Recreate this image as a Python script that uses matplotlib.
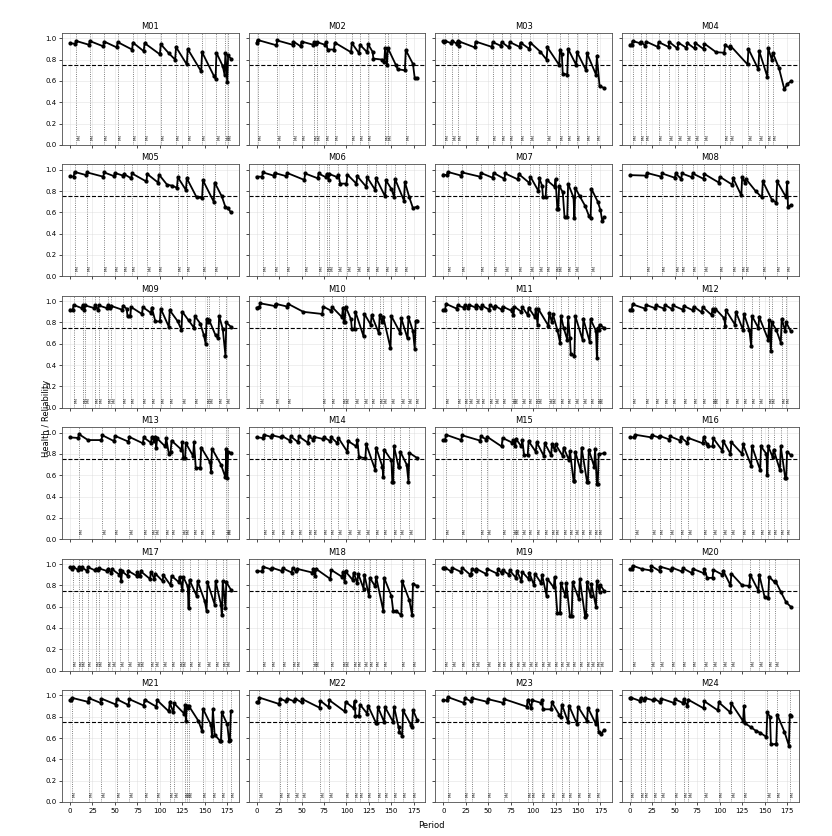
import matplotlib
matplotlib.use("Agg")
import matplotlib.pyplot as plt

MACHINES = ["M%02d" % i for i in range(1, 25)]
X_TICKS = [0, 25, 50, 75, 100, 125, 150, 175]
Y_TICKS = [0.0, 0.2, 0.4, 0.6, 0.8, 1.0]
THRESHOLD = 0.75

PM_M01 = [7, 22, 38, 53, 70, 83, 101, 118, 131, 147, 163, 173, 176]
H_M01 = [(0,.953),(6,.95),(7,.975),(21,.94),(22,.975),(37,.925),(38,.97),(52,.915),(53,.965),(69,.895),(70,.96),(82,.88),(83,.955),(100,.85),(101,.945),(110,.86),(117,.80),(118,.918),(130,.755),(131,.90),(146,.69),(147,.87),(160,.65),(162,.62),(163,.865),(170,.74),(172,.66),(173,.86),(175,.59),(176,.84),(179,.81)]

PM_M02 = [1, 23, 41, 50, 64, 67, 77, 87, 106, 115, 124, 143, 146, 166]
H_M02 = [(0,.96),(1,.985),(22,.935),(23,.98),(40,.94),(41,.97),(49,.925),(50,.97),(63,.94),(64,.965),(66,.945),(67,.965),(76,.94),(77,.965),(79,.895),(86,.895),(87,.96),(105,.87),(106,.955),(114,.86),(115,.94),(123,.87),(124,.945),(129,.875),(130,.81),(140,.80),(142,.775),(143,.91),(145,.75),(146,.91),(155,.75),(157,.71),(165,.70),(166,.89),(174,.76),(176,.625),(179,.625)]

PM_M03 = [2, 10, 16, 36, 55, 65, 74, 86, 97, 116, 130, 139, 149, 160, 171]
H_M03 = [(0,.975),(1,.97),(2,.975),(9,.955),(10,.975),(15,.95),(16,.975),(17,.93),(18,.97),(35,.915),(36,.97),(54,.92),(55,.965),(64,.93),(65,.965),(73,.915),(74,.965),(85,.92),(86,.96),(96,.90),(97,.96),(108,.875),(115,.80),(116,.915),(129,.75),(130,.895),(132,.85),(133,.67),(138,.66),(139,.90),(148,.75),(149,.87),(159,.70),(160,.86),(170,.66),(171,.83),(174,.55),(179,.535)]

PM_M04 = [3, 12, 18, 32, 44, 54, 64, 73, 83, 106, 112, 132, 144, 154, 159]
H_M04 = [(0,.94),(2,.94),(3,.975),(11,.955),(12,.97),(17,.93),(18,.97),(31,.92),(32,.965),(43,.92),(44,.965),(53,.905),(54,.96),(63,.91),(64,.955),(72,.905),(73,.955),(82,.90),(83,.95),(96,.87),(105,.865),(106,.935),(111,.91),(112,.93),(131,.755),(132,.90),(143,.71),(144,.88),(153,.64),(154,.905),(158,.80),(159,.865),(166,.72),(172,.52),(175,.57),(179,.595)]

PM_M05 = [5, 19, 38, 50, 60, 69, 86, 99, 120, 130, 148, 161]
H_M05 = [(0,.94),(4,.935),(5,.98),(18,.95),(19,.975),(37,.935),(38,.975),(49,.94),(50,.97),(59,.945),(60,.96),(68,.92),(69,.965),(85,.89),(86,.96),(98,.88),(99,.955),(108,.86),(114,.85),(119,.83),(120,.93),(129,.81),(130,.92),(141,.74),(147,.735),(148,.90),(160,.70),(161,.88),(169,.75),(173,.65),(176,.64),(179,.60)]

PM_M06 = [7, 20, 34, 54, 69, 78, 81, 91, 101, 112, 123, 133, 144, 154, 165]
H_M06 = [(0,.935),(6,.935),(7,.975),(19,.945),(20,.97),(33,.94),(34,.97),(53,.905),(54,.965),(68,.92),(69,.965),(77,.93),(78,.96),(80,.905),(81,.96),(90,.93),(91,.955),(93,.87),(100,.87),(101,.955),(111,.87),(112,.94),(122,.84),(123,.93),(132,.81),(133,.92),(143,.75),(144,.90),(150,.82),(153,.745),(154,.915),(164,.71),(165,.885),(170,.74),(174,.64),(179,.655)]

PM_M07 = [5, 21, 42, 56, 69, 84, 97, 107, 115, 125, 129, 139, 147, 165]
H_M07 = [(0,.955),(4,.95),(5,.98),(20,.945),(21,.975),(41,.935),(42,.97),(55,.925),(56,.97),(68,.915),(69,.965),(83,.91),(84,.96),(96,.875),(97,.935),(106,.80),(107,.92),(110,.85),(111,.745),(114,.745),(115,.905),(124,.84),(125,.91),(127,.63),(128,.63),(129,.85),(133,.79),(135,.555),(138,.555),(139,.87),(145,.74),(146,.55),(147,.83),(152,.75),(158,.66),(162,.57),(164,.55),(165,.82),(172,.70),(175,.62),(177,.52),(179,.555)]

PM_M08 = [19, 36, 51, 58, 70, 83, 100, 115, 125, 129, 148, 164, 175]
H_M08 = [(0,.95),(18,.945),(19,.97),(35,.935),(36,.965),(50,.925),(51,.965),(57,.915),(58,.965),(69,.93),(70,.965),(82,.915),(83,.96),(99,.88),(100,.935),(114,.86),(115,.92),(124,.76),(125,.93),(128,.88),(129,.915),(140,.80),(147,.74),(148,.89),(158,.72),(163,.69),(164,.89),(174,.74),(175,.885),(176,.655),(179,.665)]

PM_M09 = [4, 14, 17, 28, 32, 42, 46, 59, 68, 81, 91, 101, 111, 125, 139, 152, 155, 166, 174]
H_M09 = [(0,.92),(3,.92),(4,.965),(13,.935),(14,.96),(16,.92),(17,.96),(27,.935),(28,.965),(31,.915),(32,.96),(41,.935),(42,.96),(45,.94),(46,.955),(58,.92),(59,.955),(63,.93),(64,.86),(67,.86),(68,.945),(80,.88),(81,.945),(90,.89),(91,.94),(95,.81),(100,.81),(101,.93),(110,.76),(111,.915),(120,.81),(124,.73),(125,.90),(132,.82),(138,.75),(139,.86),(145,.79),(149,.68),(151,.60),(152,.83),(154,.80),(155,.82),(162,.68),(165,.65),(166,.86),(170,.74),(173,.49),(174,.80),(179,.76)]

PM_M10 = [4, 21, 35, 74, 84, 96, 99, 110, 120, 128, 137, 141, 150, 161, 169, 177]
H_M10 = [(0,.94),(3,.945),(4,.98),(20,.955),(21,.975),(34,.95),(35,.975),(52,.90),(73,.88),(74,.95),(83,.91),(84,.945),(95,.85),(96,.935),(97,.80),(98,.80),(99,.95),(105,.83),(106,.74),(109,.74),(110,.90),(119,.67),(120,.88),(127,.78),(128,.87),(136,.70),(137,.87),(140,.80),(141,.85),(149,.56),(150,.86),(160,.70),(161,.84),(168,.65),(169,.85),(174,.72),(176,.55),(177,.81),(179,.81)]

PM_M11 = [3, 16, 24, 29, 37, 43, 52, 58, 66, 77, 79, 88, 95, 103, 106, 118, 122, 131, 139, 147, 156, 164, 172, 174]
H_M11 = [(0,.92),(2,.92),(3,.975),(15,.93),(16,.96),(23,.94),(24,.965),(28,.94),(29,.965),(36,.94),(37,.965),(42,.935),(43,.96),(51,.92),(52,.96),(57,.935),(58,.955),(65,.92),(66,.95),(76,.91),(77,.93),(78,.87),(79,.95),(87,.90),(88,.945),(94,.87),(95,.94),(102,.85),(103,.93),(105,.78),(106,.925),(117,.77),(118,.89),(121,.80),(122,.88),(127,.73),(130,.61),(131,.865),(134,.75),(138,.64),(139,.85),(141,.65),(142,.50),(146,.49),(147,.86),(155,.64),(156,.83),(163,.62),(164,.83),(170,.72),(171,.47),(172,.75),(173,.73),(174,.78),(179,.75)]

PM_M12 = [3, 18, 29, 39, 48, 60, 71, 81, 92, 95, 107, 118, 127, 136, 144, 155, 158, 169, 174]
H_M12 = [(0,.92),(2,.92),(3,.97),(17,.93),(18,.965),(28,.935),(29,.96),(38,.93),(39,.965),(47,.925),(48,.96),(59,.92),(60,.955),(70,.915),(71,.95),(80,.895),(81,.945),(91,.87),(92,.93),(94,.91),(95,.93),(105,.84),(106,.77),(107,.915),(117,.78),(118,.90),(126,.73),(127,.88),(133,.73),(135,.58),(136,.86),(143,.75),(144,.85),(154,.64),(155,.82),(157,.535),(158,.80),(163,.73),(168,.61),(169,.835),(173,.72),(174,.80),(179,.72)]

PM_M13 = [10, 36, 50, 66, 82, 91, 95, 107, 113, 125, 129, 138, 146, 158, 174, 176]
H_M13 = [(0,.955),(9,.95),(10,.985),(20,.93),(35,.93),(36,.975),(49,.92),(50,.97),(65,.915),(66,.96),(81,.90),(82,.955),(90,.905),(91,.955),(94,.92),(95,.955),(96,.86),(97,.945),(106,.87),(107,.95),(110,.80),(112,.82),(113,.925),(124,.84),(125,.915),(126,.76),(128,.76),(129,.90),(137,.78),(138,.91),(140,.67),(145,.67),(146,.86),(156,.72),(157,.63),(158,.85),(168,.70),(173,.58),(174,.85),(175,.575),(176,.82),(179,.81)]

PM_M14 = [8, 17, 28, 38, 47, 58, 64, 75, 83, 91, 102, 112, 122, 133, 142, 153, 160, 170]
H_M14 = [(0,.955),(7,.95),(8,.98),(16,.96),(17,.975),(27,.955),(28,.97),(37,.925),(38,.965),(46,.91),(47,.965),(57,.905),(58,.965),(63,.935),(64,.96),(74,.94),(75,.955),(82,.92),(83,.955),(90,.90),(91,.95),(101,.82),(102,.92),(111,.87),(112,.935),(114,.77),(121,.76),(122,.89),(132,.65),(133,.86),(140,.68),(141,.58),(142,.84),(150,.74),(151,.54),(152,.54),(153,.87),(158,.675),(159,.675),(160,.82),(167,.70),(169,.54),(170,.81),(179,.76)]

PM_M15 = [3, 21, 42, 49, 66, 78, 81, 88, 95, 104, 113, 121, 125, 134, 141, 147, 154, 162, 169, 173]
H_M15 = [(0,.93),(2,.93),(3,.98),(20,.93),(21,.975),(41,.925),(42,.965),(48,.935),(49,.96),(65,.87),(66,.95),(77,.905),(78,.93),(80,.87),(81,.94),(87,.87),(88,.93),(90,.79),(94,.79),(95,.92),(103,.82),(104,.91),(112,.78),(113,.90),(120,.79),(121,.89),(124,.84),(125,.89),(133,.78),(134,.86),(140,.74),(141,.83),(145,.55),(146,.55),(147,.82),(153,.64),(154,.86),(160,.54),(161,.54),(162,.84),(168,.68),(169,.85),(171,.52),(172,.52),(173,.80),(179,.805)]

PM_M16 = [6, 25, 33, 45, 57, 65, 82, 93, 104, 113, 126, 136, 146, 154, 160, 168, 175]
H_M16 = [(0,.955),(5,.955),(6,.98),(24,.955),(25,.975),(32,.955),(33,.97),(44,.935),(45,.965),(56,.925),(57,.955),(64,.905),(65,.95),(81,.90),(82,.955),(86,.89),(87,.87),(92,.87),(93,.945),(103,.83),(104,.92),(112,.80),(113,.91),(125,.80),(126,.89),(135,.69),(136,.87),(145,.65),(146,.87),(152,.80),(153,.60),(154,.87),(159,.77),(160,.84),(167,.65),(168,.87),(173,.57),(174,.57),(175,.82),(179,.79)]

PM_M17 = [3, 10, 13, 20, 29, 32, 42, 47, 56, 65, 75, 79, 90, 95, 104, 113, 122, 126, 133, 142, 153, 162, 170, 174]
H_M17 = [(0,.97),(2,.955),(3,.975),(9,.945),(10,.97),(12,.95),(13,.97),(19,.935),(20,.97),(28,.94),(29,.955),(31,.945),(32,.96),(41,.935),(42,.955),(46,.92),(47,.95),(55,.90),(56,.945),(57,.84),(58,.93),(64,.89),(65,.935),(74,.89),(75,.925),(78,.89),(79,.93),(89,.86),(90,.925),(94,.86),(95,.91),(103,.84),(104,.895),(112,.80),(113,.89),(121,.83),(122,.88),(125,.76),(126,.88),(131,.79),(132,.585),(133,.85),(141,.70),(142,.84),(150,.65),(152,.56),(153,.83),(161,.62),(162,.84),(168,.62),(169,.52),(170,.84),(173,.59),(174,.83),(179,.76)]

PM_M18 = [7, 17, 29, 40, 45, 63, 66, 83, 96, 99, 108, 113, 120, 126, 133, 142, 162, 174]
H_M18 = [(0,.935),(6,.93),(7,.975),(16,.95),(17,.965),(28,.935),(29,.96),(39,.92),(40,.965),(44,.93),(45,.955),(62,.92),(63,.95),(65,.89),(66,.955),(82,.86),(83,.945),(95,.88),(96,.925),(98,.83),(99,.93),(107,.85),(108,.92),(112,.82),(113,.91),(119,.77),(120,.90),(125,.70),(126,.87),(132,.79),(133,.88),(141,.56),(142,.87),(150,.70),(152,.56),(155,.56),(161,.52),(162,.84),(170,.66),(173,.52),(174,.81),(179,.795)]

PM_M19 = [2, 10, 21, 32, 37, 49, 61, 66, 74, 82, 88, 96, 102, 110, 116, 124, 131, 137, 144, 152, 160, 165, 171, 175]
H_M19 = [(0,.965),(1,.96),(2,.965),(9,.93),(10,.965),(20,.925),(21,.965),(30,.90),(31,.91),(32,.955),(36,.93),(37,.955),(48,.905),(49,.955),(60,.91),(61,.95),(65,.915),(66,.945),(73,.90),(74,.94),(81,.87),(82,.935),(87,.84),(88,.925),(95,.86),(96,.915),(101,.80),(102,.91),(109,.82),(110,.90),(115,.70),(116,.86),(123,.78),(124,.88),(127,.54),(130,.54),(131,.82),(136,.70),(137,.82),(141,.51),(143,.51),(144,.83),(151,.67),(152,.86),(158,.50),(159,.52),(160,.83),(164,.70),(165,.81),(170,.60),(171,.84),(174,.74),(175,.80),(179,.75)]

PM_M20 = [3, 24, 34, 47, 59, 70, 83, 93, 104, 113, 134, 144, 155, 162]
H_M20 = [(0,.95),(2,.95),(3,.985),(13,.955),(23,.94),(24,.98),(33,.935),(34,.975),(46,.945),(47,.965),(58,.93),(59,.96),(69,.915),(70,.955),(82,.915),(83,.955),(86,.87),(92,.87),(93,.945),(103,.90),(104,.935),(112,.80),(113,.91),(125,.80),(133,.795),(134,.90),(143,.75),(144,.90),(150,.69),(154,.68),(155,.88),(161,.83),(162,.84),(168,.74),(174,.64),(179,.60)]

PM_M21 = [2, 21, 35, 52, 66, 83, 97, 111, 116, 128, 130, 132, 148, 159, 169, 179]
H_M21 = [(0,.955),(1,.955),(2,.978),(20,.94),(21,.975),(34,.93),(35,.97),(51,.915),(52,.965),(65,.91),(66,.965),(82,.905),(83,.96),(96,.895),(97,.955),(110,.85),(111,.935),(115,.84),(116,.925),(127,.83),(128,.91),(129,.76),(130,.90),(131,.88),(132,.905),(143,.76),(147,.665),(148,.875),(157,.72),(158,.62),(159,.87),(161,.63),(167,.575),(168,.575),(169,.84),(175,.73),(177,.575),(178,.58),(179,.85)]

PM_M22 = [3, 26, 34, 43, 51, 71, 81, 99, 109, 115, 124, 135, 143, 153, 163, 174]
H_M22 = [(0,.935),(2,.935),(3,.98),(25,.92),(26,.97),(33,.945),(34,.97),(42,.945),(43,.97),(50,.935),(51,.965),(70,.885),(71,.95),(80,.89),(81,.955),(98,.85),(99,.94),(108,.88),(109,.945),(110,.81),(114,.81),(115,.915),(123,.83),(124,.905),(133,.74),(134,.74),(135,.89),(142,.75),(143,.89),(152,.75),(153,.895),(158,.70),(159,.66),(162,.62),(163,.86),(172,.72),(173,.70),(174,.865),(179,.765)]

PM_M23 = [5, 24, 32, 50, 68, 94, 99, 110, 121, 132, 140, 150, 161, 171]
H_M23 = [(0,.955),(4,.955),(5,.985),(23,.93),(24,.975),(31,.945),(32,.975),(49,.94),(50,.965),(67,.93),(68,.965),(93,.895),(94,.96),(98,.885),(99,.955),(109,.93),(110,.955),(111,.87),(120,.87),(121,.935),(129,.82),(131,.80),(132,.915),(139,.75),(140,.905),(149,.73),(150,.895),(160,.76),(161,.885),(170,.73),(171,.86),(173,.66),(176,.64),(179,.675)]

PM_M24 = [1, 12, 17, 27, 35, 50, 60, 65, 83, 99, 113, 127, 153, 164, 178]
H_M24 = [(0,.975),(1,.98),(11,.95),(12,.975),(16,.96),(17,.975),(26,.955),(27,.97),(34,.935),(35,.97),(49,.93),(50,.965),(59,.93),(60,.965),(64,.90),(65,.96),(82,.88),(83,.945),(98,.86),(99,.935),(112,.84),(113,.925),(126,.76),(127,.90),(128,.74),(135,.70),(140,.67),(145,.65),(152,.61),(153,.84),(156,.80),(157,.54),(163,.545),(164,.82),(172,.66),(177,.53),(178,.82),(179,.81)]

HEALTH = [H_M01, H_M02, H_M03, H_M04, H_M05, H_M06, H_M07, H_M08, H_M09, H_M10, H_M11, H_M12,
          H_M13, H_M14, H_M15, H_M16, H_M17, H_M18, H_M19, H_M20, H_M21, H_M22, H_M23, H_M24]
PMS = [PM_M01, PM_M02, PM_M03, PM_M04, PM_M05, PM_M06, PM_M07, PM_M08, PM_M09, PM_M10, PM_M11, PM_M12,
       PM_M13, PM_M14, PM_M15, PM_M16, PM_M17, PM_M18, PM_M19, PM_M20, PM_M21, PM_M22, PM_M23, PM_M24]

fig, axes = plt.subplots(6, 4, figsize=(8.32, 8.36), dpi=100, sharex=True, sharey=True)
fig.subplots_adjust(left=0.0745, right=0.960, top=0.9605, bottom=0.0407, wspace=0.055, hspace=0.175)

for ax, name, knots, pms in zip(axes.flat, MACHINES, HEALTH, PMS):
    t = [k[0] for k in knots]
    h = [k[1] for k in knots]
    ax.grid(True, color="0.85", linewidth=0.5, alpha=0.6)
    for p in pms:
        ax.axvline(p, color="0.35", linestyle=":", linewidth=0.6, zorder=1)
        ax.text(p + 1.0, 0.045, "PM", rotation=90, fontsize=3.0, va="bottom", ha="left", color="0.2")
    ax.axhline(THRESHOLD, color="black", linestyle="--", linewidth=0.8, zorder=2)
    ax.plot(t, h, color="black", linewidth=1.3, marker="o", markersize=2.0, zorder=3)
    ax.set_title(name, fontsize=6, pad=3)
    ax.set_ylim(0, 1.05)
    ax.set_xticks(X_TICKS)
    ax.set_yticks(Y_TICKS)
    ax.tick_params(labelsize=5, length=2, width=0.5, pad=2)
    for s in ax.spines.values():
        s.set_linewidth(0.6)
        s.set_color("0.3")

fig.text(0.518, 0.012, "Period", ha="center", va="center", fontsize=6)
fig.text(0.056, 0.5, "Health / Reliability", ha="center", va="center", rotation=90, fontsize=6)

fig.savefig("out.png", dpi=100)
